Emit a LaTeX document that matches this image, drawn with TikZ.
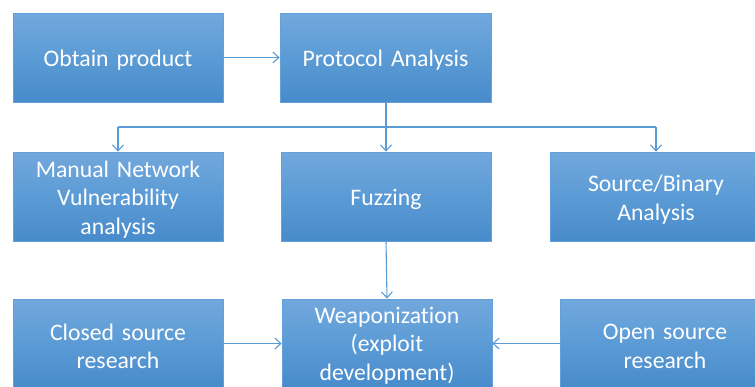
\documentclass[tikz,border=0pt]{standalone}
\usepackage{fontspec}
\setmainfont{Carlito}[Ligatures=NoCommon]
\usetikzlibrary{arrows.meta}
\definecolor{boxtop}{RGB}{114,168,221}
\definecolor{boxmid}{RGB}{91,155,213}
\definecolor{boxbot}{RGB}{72,139,203}
\definecolor{boxedge}{RGB}{100,160,218}
\definecolor{linkc}{RGB}{91,155,213}
\tikzset{
  box/.style={rectangle, draw=boxedge, line width=0.7pt,
    top color=boxtop, bottom color=boxbot, middle color=boxmid,
    minimum width=210pt, minimum height=89pt, inner sep=0pt},
  boxtext/.style={inner sep=0pt, text width=200pt, align=center, text=white,
    font=\fontsize{23.7}{28.6}\selectfont},
  link/.style={draw=linkc, line width=1.1pt,
    -{Straight Barb[length=6pt,width=11pt,line width=1.1pt]}}
}
\begin{document}
\begin{tikzpicture}[x=1pt,y=-1pt]
\useasboundingbox (0,0) rectangle (755,386);
\clip (0,0) rectangle (755,386);
\node[box] (obtain) at (118,57.5) {};
\node[box, minimum width=211pt] (proto) at (385.5,57.5) {};
\node[box] (manual) at (118,196.5) {};
\node[box] (fuzz) at (386,196.5) {};
\node[box, minimum width=212pt] (src) at (656,196.5) {};
\node[box] (closed) at (118,343.5) {};
\node[box] (weap) at (387,343.5) {};
\node[box] (open) at (665,343.5) {};
\node[boxtext] (obtain-t) at ([yshift=-3pt]obtain.center) {Obtain product};
\node[boxtext] (proto-t) at ([yshift=-3pt]proto.center) {Protocol Analysis};
\node[boxtext] (manual-t) at ([yshift=-3pt]manual.center) {Manual Network\\Vulnerability\\analysis};
\node[boxtext] (fuzz-t) at ([yshift=-3pt]fuzz.center) {Fuzzing};
\node[boxtext] (src-t) at ([yshift=-3pt]src.center) {Source/Binary\\Analysis};
\node[boxtext] (closed-t) at ([yshift=-3pt]closed.center) {Closed source\\research};
\node[boxtext] (weap-t) at ([yshift=-2pt]weap.center) {Weaponization\\(exploit\\development)};
\node[boxtext] (open-t) at ([yshift=-3pt]open.center) {Open source\\research};
\coordinate (split) at (386,127);
\path[link] (obtain) -- (proto);
\path[link] (proto.south -| fuzz.north) -- (fuzz.north);
\draw[draw=linkc, line width=1.1pt] (manual.north |- split) -- (src.north |- split);
\path[link] (manual.north |- split) -- (manual.north);
\path[link] (src.north |- split) -- (src.north);
\path[link] (fuzz.south) -- (weap.north);
\path[link] (closed.east) -- (weap.west);
\path[link] (open.west) -- (weap.east);
\end{tikzpicture}
\end{document}
